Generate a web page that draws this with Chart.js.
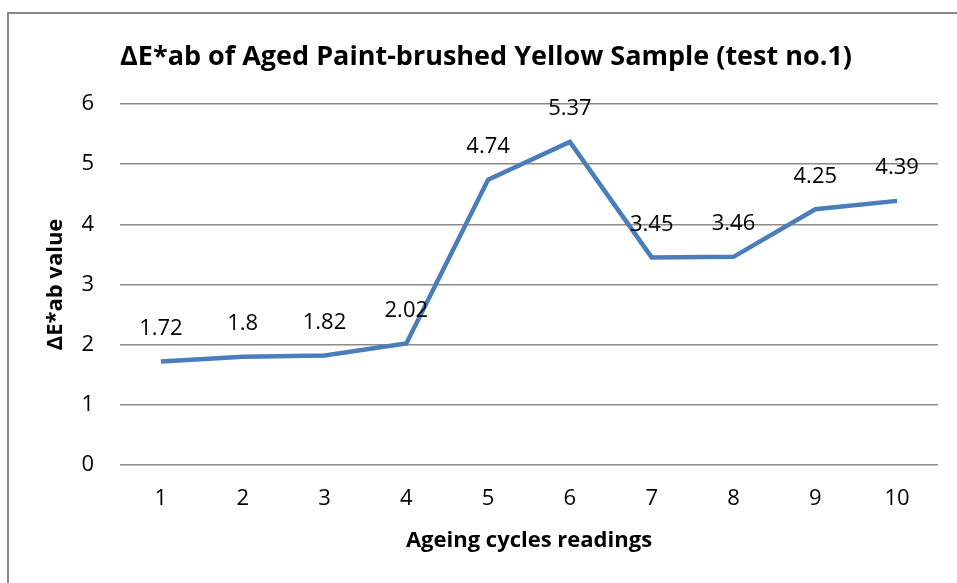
<!DOCTYPE html>
<html>
<head>
<meta charset="utf-8">
<script src="https://cdn.jsdelivr.net/npm/chart.js@4.4.1/dist/chart.umd.min.js"></script>
<style>
  html, body { margin: 0; padding: 0; background: #fff; }
  #wrap { width: 957px; height: 583px; position: relative; }
</style>
</head>
<body>
<div id="wrap"><canvas id="grafica" width="957" height="583"></canvas></div>
<script>
// Datos de la gráfica
const ciclos = ['1', '2', '3', '4', '5', '6', '7', '8', '9', '10'];
const deltaE = [1.72, 1.8, 1.82, 2.02, 4.74, 5.37, 3.45, 3.46, 4.25, 4.39];
const ejeY = { min: 0, max: 6, paso: 1 };

const fuente = "'Open Sans', 'Liberation Sans', sans-serif";

// Marco gris del gráfico (borde izquierdo y superior)
const marco = {
    id: 'marco',
    beforeDraw(chart) {
        const ctx = chart.ctx;
        ctx.save();
        ctx.fillStyle = '#fff';
        ctx.fillRect(0, 0, chart.width, chart.height);
        ctx.strokeStyle = '#8a8a8a';
        ctx.lineWidth = 2;
        ctx.beginPath();
        ctx.moveTo(8, chart.height);
        ctx.lineTo(8, 13);
        ctx.lineTo(chart.width, 13);
        ctx.stroke();
        ctx.restore();
    }
};

// Etiquetas con el valor encima de cada punto
const etiquetas = {
    id: 'etiquetas',
    afterDatasetsDraw(chart) {
        const ctx = chart.ctx;
        const meta = chart.getDatasetMeta(0);
        ctx.save();
        ctx.font = '22px ' + fuente;
        ctx.fillStyle = '#000';
        ctx.textAlign = 'center';
        ctx.textBaseline = 'middle';
        meta.data.forEach((p, i) => {
            ctx.fillText(String(deltaE[i]), p.x, p.y - 33);
        });
        ctx.restore();
    }
};

new Chart(document.getElementById('grafica'), {
    type: 'line',
    data: {
        labels: ciclos,
        datasets: [{
            data: deltaE,
            borderColor: '#4A7EBB',
            borderWidth: 4.5,
            pointRadius: 0,
            tension: 0,
            fill: false
        }]
    },
    options: {
        responsive: false,
        animation: false,
        layout: { padding: { left: 34, right: 19, top: 0, bottom: 0 } },
        plugins: {
            legend: { display: false },
            tooltip: { enabled: false },
            title: {
                display: true,
                text: 'ΔE*ab of Aged Paint-brushed Yellow Sample (test no.1)',
                color: '#000',
                font: { family: fuente, size: 27, weight: 'bold', lineHeight: 1.2 },
                padding: { top: 41, bottom: 30.6 }
            }
        },
        scales: {
            x: {
                offset: true,
                grid: { display: false, drawTicks: false },
                border: { display: false },
                ticks: { color: '#000', padding: 21, font: { family: fuente, size: 22 } },
                title: {
                    display: true,
                    text: 'Ageing cycles readings',
                    color: '#000',
                    font: { family: fuente, size: 22, weight: 'bold', lineHeight: 1.2 },
                    padding: { top: 0, bottom: 29 }
                },
                afterFit(scale) { scale.height = 118; }
            },
            y: {
                min: ejeY.min,
                max: ejeY.max,
                grid: { color: '#8a8a8a', lineWidth: 1.5, drawTicks: false },
                border: { display: false },
                ticks: { stepSize: ejeY.paso, color: '#000', padding: 26, font: { family: fuente, size: 22 } },
                title: {
                    display: true,
                    text: 'ΔE*ab value',
                    color: '#000',
                    font: { family: fuente, size: 22, weight: 'bold', lineHeight: 1.2 },
                    padding: { top: 9, bottom: 0 }
                },
                afterFit(scale) { scale.width = 86; }
            }
        }
    },
    plugins: [marco, etiquetas]
});
</script>
</body>
</html>
